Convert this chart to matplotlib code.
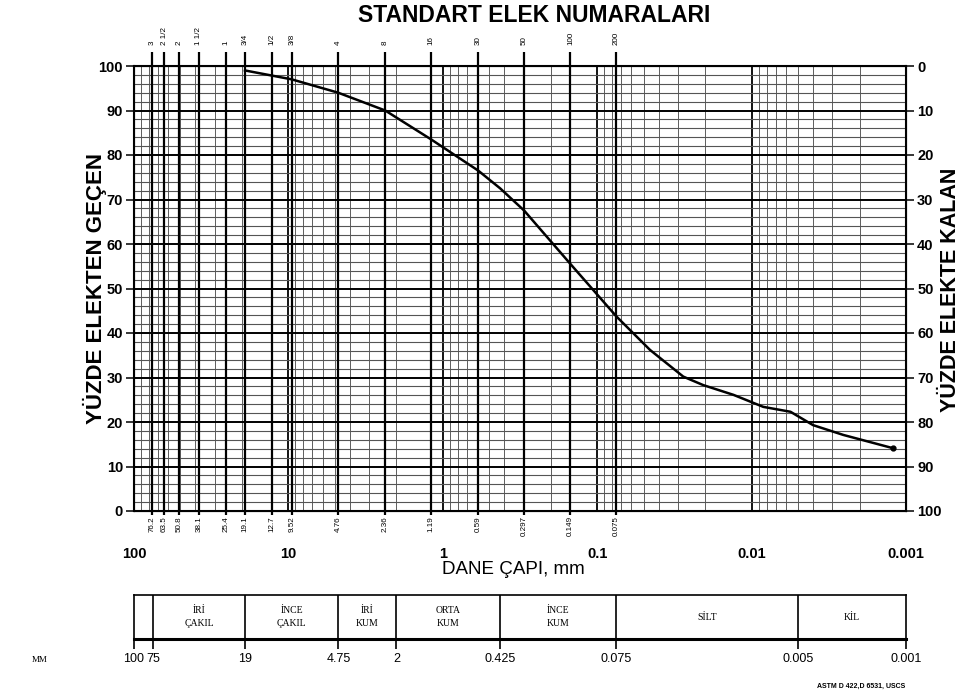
import numpy as np
import matplotlib
matplotlib.use("Agg")
import matplotlib.pyplot as plt
import matplotlib.transforms as mtransforms
from matplotlib.ticker import FixedLocator, NullFormatter, NullLocator

C_CED = "\u00c7"   # precomposed capital C with cedilla
I_DOT = "\u0130"   # capital dotted I

# ---- sieve data -------------------------------------------------------------
sieve_numbers = ["3", "2 1/2", "2", "1 1/2", "1", "3/4", "1/2", "3/8",
                 "4", "8", "16", "30", "50", "100", "200"]
sieve_openings = [76.2, 63.5, 50.8, 38.1, 25.4, 19.1, 12.7, 9.52,
                  4.76, 2.36, 1.19, 0.59, 0.297, 0.149, 0.075]
opening_labels = ["76.2", "63.5", "50.8", "38.1", "25.4", "19.1", "12.7", "9.52",
                  "4.76", "2.36", "1.19", "0.59", "0.297", "0.149", "0.075"]

# ---- grading curve (sieve + hydrometer) ------------------------------------
grain_size = [19.1, 9.52, 4.76, 2.36, 1.19, 0.59, 0.425, 0.297, 0.149, 0.075,
              0.0455, 0.0277, 0.0206, 0.0131, 0.0084, 0.0056, 0.0040, 0.00255, 0.00121]
percent_passing = [99.0, 97.0, 94.0, 90.0, 83.5, 76.5, 72.5, 67.5, 55.5, 43.7,
                   36.2, 30.2, 28.3, 26.1, 23.4, 22.3, 19.3, 17.1, 14.1]

decade_values = [100, 10, 1, 0.1, 0.01, 0.001]
decade_labels = ["100", "10", "1", "0.1", "0.01", "0.001"]

# ---- USCS size classes ------------------------------------------------------
class_bounds = [100, 75, 19, 4.75, 2, 0.425, 0.075, 0.005, 0.001]
class_bound_labels = ["100", "75", "19", "4.75", "2", "0.425", "0.075", "0.005", "0.001"]
class_names = [f"{I_DOT}R{I_DOT}\n{C_CED}AKIL", f"{I_DOT}NCE\n{C_CED}AKIL",
               f"{I_DOT}R{I_DOT}\nKUM", "ORTA\nKUM", f"{I_DOT}NCE\nKUM",
               f"S{I_DOT}LT", f"K{I_DOT}L"]

W, H = 959, 697


def fx(px):
    return px / W


def fy(py):
    return 1 - py / H


SANS = ["Liberation Sans", "DejaVu Sans"]
SERIF = ["Liberation Serif", "DejaVu Serif"]

fig = plt.figure(figsize=(W / 100, H / 100), dpi=100)

# ---- main grading chart -----------------------------------------------------
ax = fig.add_axes([fx(134), fy(511), fx(906) - fx(134), fy(66) - fy(511)])
ax.set_xscale("log")
ax.set_xlim(100, 0.001)
ax.set_ylim(0, 100)

# minor log grid and 2 % grid
minor_x = [m * 10.0 ** e for e in range(-3, 2) for m in range(2, 10)]
ax.xaxis.set_minor_locator(FixedLocator(minor_x))
ax.xaxis.set_minor_formatter(NullFormatter())
ax.yaxis.set_minor_locator(FixedLocator(np.arange(0, 101, 2)))
ax.grid(which="minor", axis="x", color="#444444", lw=0.6)
ax.grid(which="minor", axis="y", color="#555555", lw=0.8)
ax.set_yticks(np.arange(0, 101, 10))
ax.grid(which="major", axis="y", color="black", lw=1.4)
ax.set_xticks(decade_values, decade_labels)
ax.grid(which="major", axis="x", color="black", lw=1.3)
ax.tick_params(which="minor", length=0)
ax.tick_params(axis="x", which="major", length=0, pad=26, labelsize=10.5)
ax.tick_params(axis="y", which="major", length=6, width=1.1, labelsize=10.5, pad=2)
for lab in ax.get_xticklabels() + ax.get_yticklabels():
    lab.set_fontfamily(SANS)
    lab.set_fontweight("bold")

# sieve lines extending a little beyond the frame
ax.vlines(sieve_openings, -1.0, 103.2, color="black", lw=1.6, clip_on=False, zorder=3)

blend = mtransforms.blended_transform_factory(ax.transData, ax.transAxes)
for d, num, lab in zip(sieve_openings, sieve_numbers, opening_labels):
    ax.text(d, 1.048, num, transform=blend, rotation=90, ha="center", va="bottom",
            fontsize=5.8, family=SANS)
    ax.text(d, -0.012, lab, transform=blend, rotation=90, ha="center", va="top",
            fontsize=5.8, family=SANS)

# grading curve
ax.plot(grain_size, percent_passing, color="black", lw=1.8, zorder=5)
ax.plot(grain_size[-1], percent_passing[-1], marker="o", ms=3.5, color="black", zorder=5)

for s in ax.spines.values():
    s.set_linewidth(1.5)

# percent retained on the right
ax2 = ax.twinx()
ax2.set_ylim(100, 0)
ax2.set_yticks(np.arange(0, 101, 10))
ax2.yaxis.set_minor_locator(NullLocator())
ax2.tick_params(axis="y", length=6, width=1.1, labelsize=10.5, pad=2)
for lab in ax2.get_yticklabels():
    lab.set_fontfamily(SANS)
    lab.set_fontweight("bold")

# titles
fig.text(fx(534), fy(16), "STANDART ELEK NUMARALARI", ha="center", va="center",
         fontsize=16.5, fontweight="bold", family=SANS)
fig.text(fx(95), fy(288), f"YÜZDE ELEKTEN GE{C_CED}EN", rotation=90, ha="center",
         va="center", fontsize=16, fontweight="bold", family=SANS)
fig.text(fx(950), fy(290), "YÜZDE ELEKTE KALAN", rotation=90, ha="center", va="center",
         fontsize=15.5, fontweight="bold", family=SANS)
fig.text(fx(513), fy(569), f"DANE {C_CED}API, mm", ha="center", va="center",
         fontsize=13.5, family=SANS)

# ---- size classification strip ---------------------------------------------
axb = fig.add_axes([fx(134), fy(639), fx(906) - fx(134), fy(595) - fy(639)])
axb.set_xscale("log")
axb.set_xlim(100, 0.001)
axb.set_ylim(0, 1)
axb.set_yticks([])
axb.xaxis.set_minor_locator(NullLocator())
axb.set_xticks(class_bounds, class_bound_labels)
axb.tick_params(axis="x", length=7, width=1.2, pad=3, labelsize=9)
for lab in axb.get_xticklabels():
    lab.set_fontfamily(SANS)
axb.vlines(class_bounds[1:-1], 0, 1, color="black", lw=1.2)
for lo, hi, name in zip(class_bounds[1:-1], class_bounds[2:], class_names):
    axb.text(np.sqrt(lo * hi), 0.5, name, ha="center", va="center", fontsize=7,
             family=SERIF, linespacing=1.7)
axb.spines["bottom"].set_linewidth(2.2)
axb.spines["top"].set_linewidth(1.2)
axb.spines["left"].set_linewidth(1.2)
axb.spines["right"].set_linewidth(1.2)

fig.text(fx(40), fy(660), "MM", ha="center", va="center", fontsize=6.5, family=SERIF)
fig.text(fx(905), fy(686), "ASTM D 422,D 6531, USCS", ha="right", va="center",
         fontsize=5, fontweight="bold", family=SANS)

fig.savefig("out.png", dpi=100)
